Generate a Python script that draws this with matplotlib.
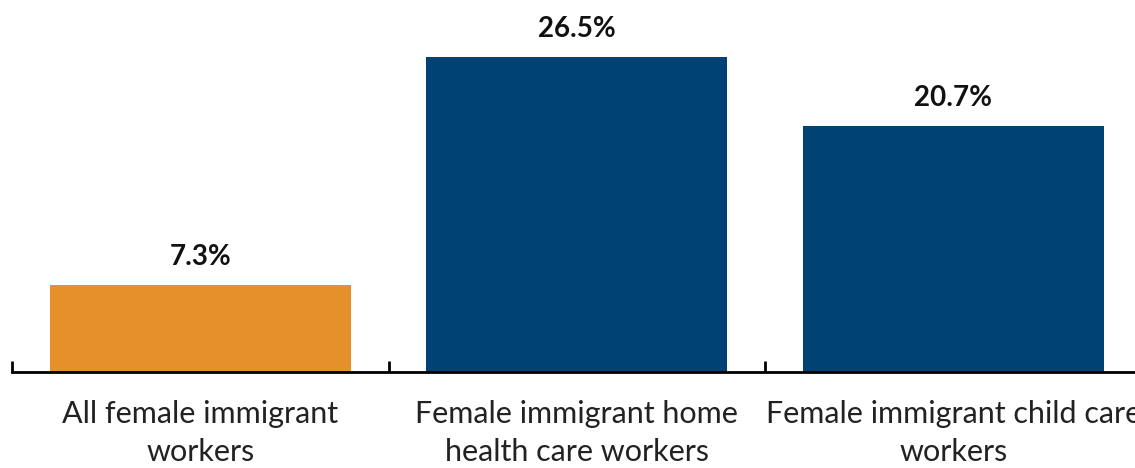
import matplotlib

matplotlib.use("Agg")
import matplotlib.pyplot as plt
import numpy as np

CATEGORIES = [
    "All female immigrant\nworkers",
    "Female immigrant home\nhealth care workers",
    "Female immigrant child care\nworkers",
]
VALUES = [7.3, 26.5, 20.7]
VALUE_LABELS = ["7.3%", "26.5%", "20.7%"]
COLORS = ["#E5902A", "#004274"]

plt.rcParams["font.family"] = ["Lato", "DejaVu Sans"]

fig = plt.figure(figsize=(11.35, 4.68), dpi=100)
ax = fig.add_axes([12 / 1135, 96 / 468, 1129.5 / 1135, 372 / 468])

x = np.arange(len(VALUES))
bar_colors = [COLORS[0]] + [COLORS[1]] * (len(VALUES) - 1)
bars = ax.bar(x, VALUES, width=0.8, color=bar_colors, zorder=2)

for b, lab in zip(bars, VALUE_LABELS):
    ax.annotate(lab, (b.get_x() + b.get_width() / 2, b.get_height()),
                xytext=(0, 11), textcoords="offset points",
                ha="center", va="bottom", fontsize=20, fontweight="bold", color="#111111")

ax.set_xlim(-0.5, len(VALUES) - 0.5)
ax.set_ylim(0, 372 / 11.87)

for s in ["top", "right", "left"]:
    ax.spines[s].set_visible(False)
ax.spines["bottom"].set_linewidth(2)
ax.spines["bottom"].set_color("black")

ax.set_yticks([])
ax.set_xticks(x)
# the right label runs past the figure edge, as in the original
ax.set_xticklabels(CATEGORIES, fontsize=22, color="#222222", linespacing=1.45)
ax.tick_params(axis="x", which="major", length=0, pad=20)
ax.set_xticks(np.arange(-0.5, len(VALUES) - 0.5, 1.0), minor=True)
ax.tick_params(axis="x", which="minor", direction="in", length=8, width=2, color="black")

fig.savefig("out.png", dpi=100)
